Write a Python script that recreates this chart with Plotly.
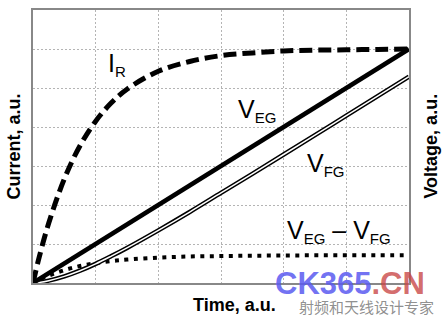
import plotly.graph_objects as go

# ---- data ----
time_au = [0, 0.1, 0.25, 0.5, 0.75, 1, 1.25, 1.5, 2, 2.5, 3, 3.5, 4, 4.5, 5, 5.5, 6]
i_r = [0, 0.67, 1.53, 2.67, 3.52, 4.15, 4.62, 4.97, 5.43, 5.68, 5.83, 5.90, 5.95, 5.97, 5.98, 5.99, 6.0]
v_eg = [0, 0.1, 0.25, 0.5, 0.75, 1, 1.25, 1.5, 2, 2.5, 3, 3.5, 4, 4.5, 5, 5.5, 6]
v_fg = [0, 0.015, 0.06, 0.17, 0.315, 0.49, 0.69, 0.90, 1.35, 1.82, 2.31, 2.80, 3.295, 3.79, 4.29, 4.79, 5.29]
v_diff = [0, 0.085, 0.19, 0.33, 0.435, 0.51, 0.56, 0.60, 0.65, 0.68, 0.69, 0.70, 0.705, 0.71, 0.71, 0.71, 0.71]

x_range = [0, 6]
y_range = [0, 7]

fig = go.Figure()
# I_R dashed
fig.add_trace(go.Scatter(x=time_au, y=i_r, mode="lines",
                         line=dict(color="black", width=5, dash="13px,6px", shape="spline")))
# V_EG - V_FG dotted
fig.add_trace(go.Scatter(x=time_au, y=v_diff, mode="lines",
                         line=dict(color="black", width=4, dash="4px,5.5px", shape="spline")))
# V_FG double line
fig.add_trace(go.Scatter(x=time_au, y=v_fg, mode="lines",
                         line=dict(color="black", width=4.5, shape="spline")))
fig.add_trace(go.Scatter(x=time_au, y=v_fg, mode="lines",
                         line=dict(color="white", width=1.5, shape="spline")))
# V_EG thick
fig.add_trace(go.Scatter(x=time_au, y=v_eg, mode="lines",
                         line=dict(color="black", width=4.5)))

lab_font = dict(family="Arial, Liberation Sans, sans-serif", size=25, color="black")
sub = lambda s: '<sub><span style="font-size:15px">' + s + '</span></sub>'
labels = [
    ("I" + sub("R"), 1.34, 5.60),
    ("V" + sub("EG"), 3.574, 4.43),
    ("V" + sub("FG"), 4.675, 3.05),
    ("V" + sub("EG") + " – V" + sub("FG"), 4.883, 1.32),
]
annotations = []
for txt, x, y in labels:
    annotations.append(dict(text=txt, x=x, y=y, xref="x", yref="y", showarrow=False,
                            xanchor="center", yanchor="middle", font=lab_font))

title_font = dict(family="Arial, Liberation Sans, sans-serif", size=18, color="black")
annotations += [
    dict(text="<b>Current, a.u.</b>", x=-0.053, y=0.5, xref="paper", yref="paper",
         showarrow=False, textangle=-90, xanchor="center", yanchor="middle", font=title_font),
    dict(text="<b>Voltage, a.u.</b>", x=1.056, y=0.5, xref="paper", yref="paper",
         showarrow=False, textangle=-90, xanchor="center", yanchor="middle", font=title_font),
    dict(text="<b>Time, a.u.</b>", x=0.535, y=-0.08, xref="paper", yref="paper",
         showarrow=False, xanchor="center", yanchor="middle", font=title_font),
    # watermark
    dict(text='<b><span style="color:rgba(90,90,240,0.85)">CK365</span>'
              '<span style="color:rgba(200,70,70,0.8)">.CN</span></b>',
         x=0.843, y=0.0, xref="paper", yref="paper", showarrow=False,
         xanchor="center", yanchor="middle",
         font=dict(family="Arial, Liberation Sans, sans-serif", size=31)),
    dict(text="射频和天线设计专家", x=0.886, y=-0.131, xref="paper", yref="paper",
         showarrow=False, xanchor="center", yanchor="bottom",
         font=dict(family="Noto Sans CJK SC, sans-serif", size=15, color="rgba(130,130,130,0.9)")),
]

axis_common = dict(showticklabels=False, ticks="", showgrid=True, gridcolor="#b4b4b4",
                   gridwidth=1, griddash="2px,2px", zeroline=False, showline=True,
                   linecolor="#888888", linewidth=2, mirror=True, dtick=1)
fig.update_layout(
    width=445, height=319,
    margin=dict(l=33, r=36, t=8, b=36),
    paper_bgcolor="white", plot_bgcolor="white",
    showlegend=False,
    xaxis=dict(range=x_range, **axis_common),
    yaxis=dict(range=y_range, **axis_common),
    annotations=annotations,
)
fig.write_html("out.html")
